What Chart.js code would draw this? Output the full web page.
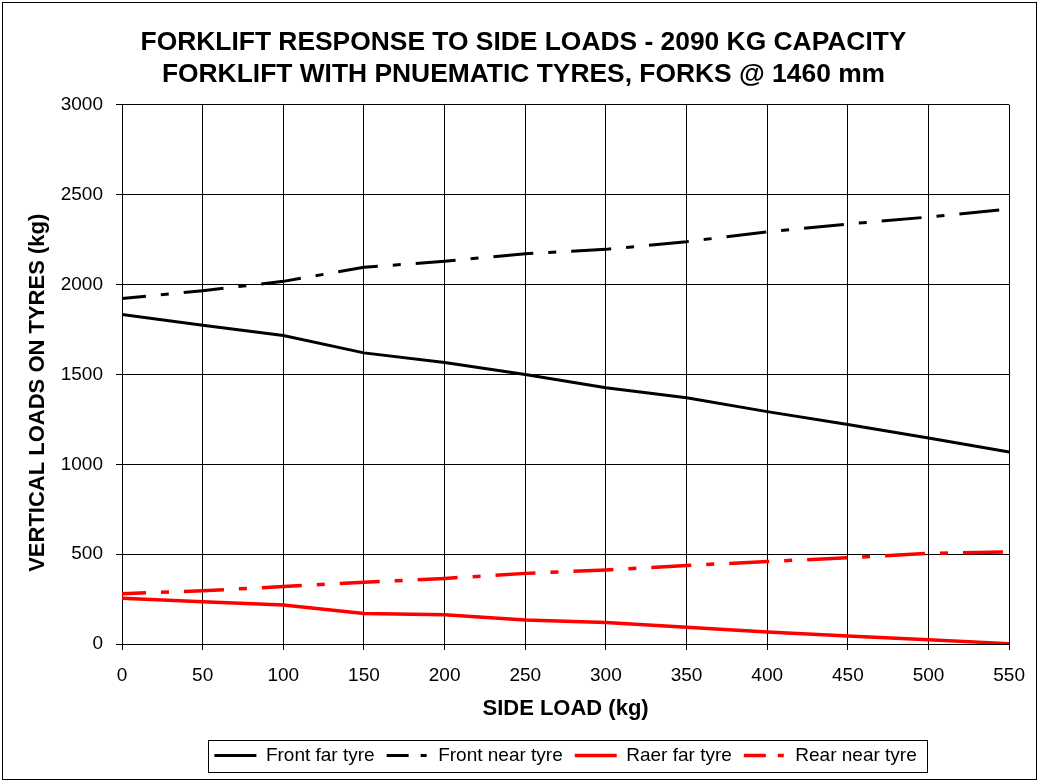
<!DOCTYPE html>
<html>
<head>
<meta charset="utf-8">
<title>Forklift response to side loads</title>
<script src="https://cdn.jsdelivr.net/npm/chart.js@4/dist/chart.umd.min.js"></script>
<style>
    html, body { margin: 0; padding: 0; background: #fff; }
    #wrap { width: 1039px; height: 780px; }
</style>
</head>
<body>
<div id="wrap"><canvas id="chart" width="1039" height="780"></canvas></div>
<script>
/**
 * Data.
 */
const SIDE_LOADS = [0, 50, 100, 150, 200, 250, 300, 350, 400, 450, 500, 550];
const FRONT_FAR = [1833, 1774, 1717, 1620, 1567, 1500, 1426, 1370, 1293, 1222, 1146, 1068];
const FRONT_NEAR = [1922, 1966, 2018, 2096, 2130, 2172, 2196, 2239, 2293, 2337, 2376, 2420];
const REAR_FAR = [254, 235, 217, 170, 163, 133, 120, 93, 67, 44, 24, 2];
const REAR_NEAR = [280, 296, 320, 343, 365, 393, 412, 437, 459, 480, 504, 513];
const SERIES_NAMES = ['Front far tyre', 'Front near tyre', 'Raer far tyre', 'Rear near tyre'];
const Y_TICKS = [0, 500, 1000, 1500, 2000, 2500, 3000];

const FONT = '"Liberation Sans", Arial, sans-serif';
const DASH_DOT = [40, 15, 8, 15];

const toPoints = (values) => SIDE_LOADS.map((x, i) => ({x, y: values[i]}));

/**
 * Border round the whole picture and the frame round the legend.
 */
const framePlugin = {
    id: 'frame',
    afterDraw: (chart) => {
        const ctx = chart.ctx;
        ctx.save();
        ctx.strokeStyle = '#000';
        ctx.lineWidth = 1;
        ctx.setLineDash([]);
        ctx.strokeRect(2.5, 2.5, chart.width - 5, chart.height - 3);

        const boxes = chart.legend.legendHitBoxes;
        if (boxes && boxes.length) {
            const first = boxes[0];
            const last = boxes[boxes.length - 1];
            const left = Math.round(first.left - 6) + 0.5;
            const right = Math.round(last.left + last.width + 10) + 0.5;
            const top = Math.round(first.top + first.height / 2 - 16) + 0.5;
            ctx.strokeRect(left, top, right - left, 32);
        }
        ctx.restore();
    }
};

const makeSet = (label, values, color, width, dash) => ({
    label,
    data: toPoints(values),
    borderColor: color,
    backgroundColor: color,
    borderWidth: width,
    borderDash: dash,
    borderDashOffset: dash.length ? 16 : 0,
    pointRadius: 0,
    pointStyle: 'line',
    tension: 0,
    fill: false
});

const onDOMLoaded = () => {
    const CHART = document.getElementById('chart').getContext('2d');

    new Chart(CHART, {
        type: 'line',
        data: {
            datasets: [
                makeSet(SERIES_NAMES[0], FRONT_FAR, '#000', 3, []),
                makeSet(SERIES_NAMES[1], FRONT_NEAR, '#000', 3, DASH_DOT),
                makeSet(SERIES_NAMES[2], REAR_FAR, '#ff0000', 3.5, []),
                makeSet(SERIES_NAMES[3], REAR_NEAR, '#ff0000', 3.5, DASH_DOT)
            ]
        },
        plugins: [framePlugin],
        options: {
            responsive: false,
            animation: false,
            layout: {padding: {left: 19, right: 11, top: 0, bottom: 5}},
            plugins: {
                title: {
                    display: true,
                    text: ['FORKLIFT RESPONSE TO SIDE LOADS - 2090 KG CAPACITY', 'FORKLIFT WITH PNUEMATIC TYRES, FORKS @ 1460 mm'],
                    color: '#000',
                    font: {family: FONT, size: 26.4, weight: 'bold', lineHeight: 1.21},
                    padding: {top: 27, bottom: 14}
                },
                legend: {
                    position: 'bottom',
                    fullSize: false,
                    labels: {
                        color: '#000',
                        font: {family: FONT, size: 19},
                        usePointStyle: true,
                        pointStyleWidth: 42,
                        padding: 12,
                        generateLabels: (chart) => chart.data.datasets.map((ds, i) => ({
                            text: ds.label,
                            datasetIndex: i,
                            fillStyle: ds.borderColor,
                            strokeStyle: ds.borderColor,
                            lineWidth: ds.borderWidth,
                            lineDash: ds.borderDash.length ? [22, 12, 6, 12] : [],
                            lineDashOffset: 0,
                            pointStyle: 'line',
                            fontColor: '#000',
                            hidden: false
                        }))
                    }
                },
                tooltip: {enabled: false}
            },
            scales: {
                x: {
                    type: 'linear',
                    min: 0,
                    max: 550,
                    afterFit: (scale) => { scale.height = 90; },
                    ticks: {
                        stepSize: 50,
                        color: '#000',
                        padding: 14,
                        font: {family: FONT, size: 19}
                    },
                    grid: {color: '#000', lineWidth: 1, tickLength: 6, tickColor: '#000'},
                    border: {color: '#000', width: 1},
                    title: {
                        display: true,
                        text: 'SIDE LOAD (kg)',
                        color: '#000',
                        font: {family: FONT, size: 22, weight: 'bold'},
                        padding: {top: 0, bottom: 12}
                    }
                },
                y: {
                    min: 0,
                    max: 3000,
                    afterFit: (scale) => { scale.width = 103; },
                    afterBuildTicks: (scale) => {
                        scale.ticks = Y_TICKS.map((value) => ({value}));
                    },
                    ticks: {
                        color: '#000',
                        padding: 13,
                        font: {family: FONT, size: 19},
                        callback: (value) => String(value)
                    },
                    grid: {color: '#000', lineWidth: 1, tickLength: 6, tickColor: '#000'},
                    border: {color: '#000', width: 1},
                    title: {
                        display: true,
                        // trailing spaces push the text down a little, as in the original
                        text: 'VERTICAL LOADS ON TYRES (kg)      ',
                        color: '#000',
                        font: {family: FONT, size: 22, weight: 'bold'},
                        padding: {top: 6, bottom: 0}
                    }
                }
            }
        }
    });
};

document.addEventListener('DOMContentLoaded', onDOMLoaded);
</script>
</body>
</html>
